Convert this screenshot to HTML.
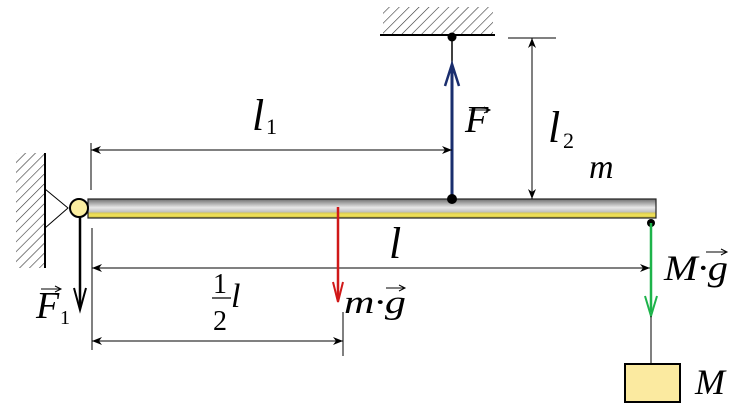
<!DOCTYPE html>
<html><head><meta charset="utf-8"><style>
html,body{margin:0;padding:0;background:#fff;}
svg{display:block;}
text{font-family:"Liberation Serif",serif;font-style:italic;fill:#000;}
.n{font-style:normal;}
</style></head><body>
<svg width="751" height="414" viewBox="0 0 751 414" xmlns="http://www.w3.org/2000/svg">
<defs>
<pattern id="h" width="7" height="7" patternUnits="userSpaceOnUse" patternTransform="rotate(45)">
<line x1="0" y1="0" x2="0" y2="7" stroke="#333" stroke-width="1.2"/></pattern>
<linearGradient id="bar" x1="0" y1="0" x2="0" y2="1">
<stop offset="0" stop-color="#6e6e6e"/><stop offset="0.45" stop-color="#e8e8e8"/><stop offset="0.7" stop-color="#bdbdbd"/><stop offset="0.72" stop-color="#d8c850"/><stop offset="0.85" stop-color="#f2e35a"/><stop offset="1" stop-color="#c8b840"/></linearGradient>
<marker id="a" markerWidth="10" markerHeight="8" refX="10" refY="4" orient="auto" markerUnits="userSpaceOnUse"><path d="M0,0 L10,4 L0,8 L3,4z" fill="#000"/></marker>
</defs>
<rect x="16" y="153" width="29" height="115" fill="url(#h)"/>
<line x1="45" y1="153" x2="45" y2="268" stroke="#000" stroke-width="2"/>
<polyline points="45,189 68,208 45,228" fill="none" stroke="#000" stroke-width="1"/>
<rect x="383" y="7" width="110" height="27" fill="url(#h)"/>
<line x1="380" y1="35" x2="495" y2="35" stroke="#000" stroke-width="2"/>
<line x1="452" y1="35" x2="452" y2="70" stroke="#000" stroke-width="1.5"/>
<rect x="88" y="199" width="568" height="19" fill="url(#bar)" stroke="#222" stroke-width="1.2"/>
<circle cx="79" cy="208" r="9" fill="#fbeea0" stroke="#000" stroke-width="2"/>
<line x1="452" y1="199" x2="452" y2="66" stroke="#1a2e6e" stroke-width="3"/>
<polyline points="445,86 452,64 459,86" fill="none" stroke="#1a2e6e" stroke-width="2.5"/>
<circle cx="452" cy="37" r="4.5" fill="#000"/>
<circle cx="452" cy="199" r="5" fill="#000"/>
<text x="465" y="132" style="font-size:38px">F</text>
<line x1="469" y1="110" x2="489" y2="110" stroke="#000" stroke-width="1"/><path d="M484,107 L490,110 L484,113" fill="none" stroke="#000" stroke-width="1"/>
<line x1="91" y1="143" x2="91" y2="190" stroke="#000" stroke-width="1"/>
<line x1="91" y1="150" x2="452" y2="150" stroke="#000" stroke-width="1" marker-end="url(#a)"/>
<line x1="452" y1="150" x2="91" y2="150" stroke="#000" stroke-width="1" marker-end="url(#a)"/>
<text x="252" y="130" style="font-size:44px">l</text><text x="266" y="134" class="n" style="font-size:22px">1</text>
<line x1="508" y1="38" x2="556" y2="38" stroke="#000" stroke-width="1"/>
<line x1="532" y1="38" x2="532" y2="199" stroke="#000" stroke-width="1" marker-end="url(#a)"/>
<line x1="532" y1="199" x2="532" y2="38" stroke="#000" stroke-width="1" marker-end="url(#a)"/>
<text x="548" y="142" style="font-size:44px">l</text><text x="563" y="148" class="n" style="font-size:22px">2</text>
<text x="589" y="178" style="font-size:34px">m</text>
<line x1="80" y1="217" x2="80" y2="306" stroke="#000" stroke-width="2.5"/>
<polyline points="74,288 80,310 86,288" fill="none" stroke="#000" stroke-width="2"/>
<text x="36" y="318" style="font-size:38px">F</text><text x="60" y="324" class="n" style="font-size:20px">1</text>
<line x1="41" y1="289" x2="60" y2="289" stroke="#000" stroke-width="1"/><path d="M55,286 L61,289 L55,292" fill="none" stroke="#000" stroke-width="1"/>
<line x1="92" y1="228" x2="92" y2="350" stroke="#000" stroke-width="1"/>
<line x1="92" y1="268" x2="650" y2="268" stroke="#000" stroke-width="1" marker-end="url(#a)"/>
<line x1="650" y1="268" x2="92" y2="268" stroke="#000" stroke-width="1" marker-end="url(#a)"/>
<text x="389" y="258" style="font-size:44px">l</text>
<line x1="338" y1="207" x2="338" y2="300" stroke="#d01818" stroke-width="2.5"/>
<polyline points="333,282 338,302 343,282" fill="none" stroke="#d01818" stroke-width="2"/>
<text x="344" y="313" style="font-size:33px" textLength="62" lengthAdjust="spacingAndGlyphs">m·g</text>
<line x1="386" y1="288" x2="404" y2="288" stroke="#000" stroke-width="1"/><path d="M399,285 L405,288 L399,291" fill="none" stroke="#000" stroke-width="1"/>
<line x1="343" y1="312" x2="343" y2="356" stroke="#000" stroke-width="1"/>
<line x1="92" y1="341" x2="343" y2="341" stroke="#000" stroke-width="1" marker-end="url(#a)"/>
<line x1="343" y1="341" x2="92" y2="341" stroke="#000" stroke-width="1" marker-end="url(#a)"/>
<text x="213" y="293" class="n" style="font-size:28px">1</text>
<line x1="212" y1="298" x2="231" y2="298" stroke="#000" stroke-width="1.2"/>
<text x="213" y="330" class="n" style="font-size:28px">2</text>
<text x="231" y="307" style="font-size:34px">l</text>
<circle cx="651" cy="223" r="4" fill="#000"/>
<line x1="651" y1="223" x2="651" y2="312" stroke="#1db34a" stroke-width="2.5"/>
<polyline points="645,296 651,316 657,296" fill="none" stroke="#1db34a" stroke-width="2"/>
<line x1="651" y1="316" x2="651" y2="364" stroke="#000" stroke-width="1"/>
<text x="664" y="280" style="font-size:36px" textLength="64" lengthAdjust="spacingAndGlyphs">M·g</text>
<line x1="706" y1="252" x2="726" y2="252" stroke="#000" stroke-width="1"/><path d="M721,249 L727,252 L721,255" fill="none" stroke="#000" stroke-width="1"/>
<rect x="625" y="364" width="55" height="38" fill="#fbeaa0" stroke="#000" stroke-width="2"/>
<text x="695" y="394" style="font-size:36px">M</text>
</svg>
</body></html>
